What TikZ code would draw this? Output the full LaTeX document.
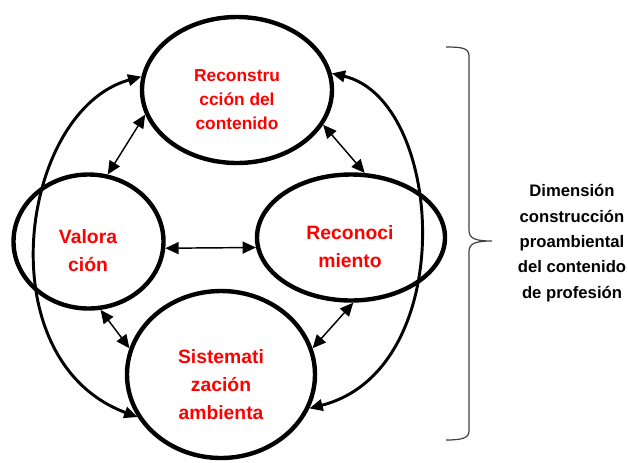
\documentclass[tikz,border=0pt]{standalone}
\usepackage{fontspec}
\setmainfont{Liberation Sans}
\usepackage{tikz}
\usetikzlibrary{shapes.geometric,arrows.meta}
\tikzset{
  bubble/.style={ellipse,draw,line width=3.3pt,inner sep=0pt},
  bubbletxt/.style={text=red,align=center,font=\bfseries\fontsize{14.5}{21}\selectfont},
  sidetxt/.style={align=center,font=\bfseries\fontsize{12.5}{19}\selectfont},
  linkarrow/.style={line width=1.1pt,{Triangle[length=10pt,width=9pt]}-{Triangle[length=10pt,width=9pt]}},
  looparrow/.style={line width=2.2pt,{Triangle[length=10pt,width=8.5pt]}-{Triangle[length=10pt,width=8.5pt]}}
}

\begin{document}
\begin{tikzpicture}[x=0.75pt,y=-0.75pt]
  \useasboundingbox (0,0) rectangle (628,462);
  % the four phases
  \node[bubble,minimum width=142.5pt,minimum height=109.5pt] (rec) at (237,90) {};
  \node[bubble,minimum width=112.5pt,minimum height=100.5pt] (val) at (88.5,241.5) {};
  \node[bubble,minimum width=141pt,minimum height=94.5pt] (reco) at (351,237.5) {};
  \node[bubble,minimum width=141pt,minimum height=125.25pt] (sis) at (221,374.5) {};
  \node[bubbletxt,font=\bfseries\fontsize{13}{18}\selectfont] (rectxt) at (237,100) {Reconstru\\cción del\\contenido};
  \node[bubbletxt] (valtxt) at (88,251) {Valora\\ción};
  \node[bubbletxt] (recotxt) at (350,247) {Reconoci\\miento};
  \node[bubbletxt] (sistxt) at (221,385) {Sistemati\\zación\\ambienta};
  % links
  \draw[linkarrow] (rec.195) -- (val.74);
  \draw[linkarrow] (rec.-22) -- (reco.78);
  \draw[linkarrow] (val.-5) -- (reco.186);
  \draw[linkarrow] (val.-80) -- (sis.164);
  \draw[linkarrow] (sis.16) -- (reco.-88);
  \draw[looparrow] (rec.172) .. controls (20,110) and (-15,360) .. (sis.207);
  \draw[looparrow] (rec.10) .. controls (445,100) and (460,370) .. (sis.-21);
  % brace and dimension
  \draw[line width=0.9pt,black!75] (446,47) .. controls (462,47) and (469,48) .. (469,56)
    -- (469,230) .. controls (469,238) and (474,241) .. (492,241)
    .. controls (474,241) and (469,244) .. (469,252) -- (469,431)
    .. controls (469,438) and (462,440) .. (446,440);
  \node[sidetxt] (dim) at (572,243) {Dimensión\\construcción\\proambiental\\del contenido\\de profesión};
\end{tikzpicture}
\end{document}
